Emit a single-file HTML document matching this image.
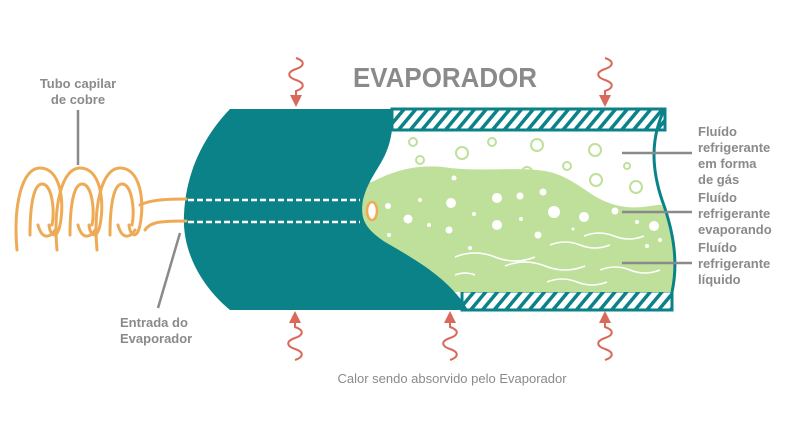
<!DOCTYPE html>
<html><head><style>body{margin:0;background:#fff}svg{display:block}</style></head><body>
<svg width="804" height="435" viewBox="0 0 804 435" xmlns="http://www.w3.org/2000/svg" font-family="Liberation Sans, sans-serif">
<defs>
<pattern id="h" width="9" height="9" patternUnits="userSpaceOnUse" patternTransform="rotate(40)">
<rect width="9" height="9" fill="#fff"/><rect width="3.5" height="9" fill="#0a8288"/></pattern>
<marker id="a" markerWidth="6" markerHeight="6" refX="3" refY="3" orient="auto"><path d="M0,0 L6,3 L0,6z" fill="#d9695a"/></marker>
</defs>
<rect x="392" y="109" width="273" height="21" fill="url(#h)" stroke="#0a8288" stroke-width="3"/>
<rect x="462" y="291" width="210" height="19" fill="url(#h)" stroke="#0a8288" stroke-width="3"/>
<path d="M350,182 L372,182 C395,170 420,163 450,168 C490,172 520,166 550,172 C580,180 590,200 620,206 C640,210 655,204 662,205 C675,235 678,265 672,292 L440,292 L350,250Z" fill="#bfe09b"/>
<path d="M664,110 C650,140 652,170 662,200 C675,235 678,265 672,292" fill="none" stroke="#0a8288" stroke-width="3"/>
<path d="M230,109 L393,109 C393,125 392,140 385,155 C378,170 368,180 363,200 C360,218 364,228 385,242 C420,262 450,280 468,310 L230,310 C200,285 182,250 184,215 C186,170 205,135 230,109Z" fill="#0a8288"/>
<g fill="none" stroke="#bfe09b" stroke-width="2">
<circle cx="413" cy="142" r="4"/><circle cx="420" cy="160" r="4"/><circle cx="462" cy="153" r="6"/><circle cx="492" cy="142" r="4"/><circle cx="537" cy="145" r="6"/><circle cx="595" cy="150" r="6"/><circle cx="567" cy="166" r="4"/><circle cx="627" cy="166" r="3"/><circle cx="596" cy="180" r="6"/><circle cx="636" cy="187" r="6"/><circle cx="527" cy="172" r="5"/><circle cx="581" cy="196" r="5"/></g>
<g fill="#fff">
<circle cx="388" cy="206" r="3"/><circle cx="408" cy="219" r="4.5"/><circle cx="420" cy="200" r="2"/><circle cx="451" cy="203" r="5"/><circle cx="454" cy="178" r="2.5"/><circle cx="429" cy="225" r="2"/><circle cx="389" cy="235" r="2"/><circle cx="449" cy="230" r="3.5"/><circle cx="497" cy="198" r="5"/><circle cx="520" cy="196" r="3.5"/><circle cx="543" cy="192" r="3.5"/><circle cx="474" cy="214" r="2"/><circle cx="497" cy="225" r="5"/><circle cx="521" cy="219" r="2"/><circle cx="554" cy="212" r="6"/><circle cx="538" cy="235" r="3.5"/><circle cx="584" cy="217" r="5"/><circle cx="615" cy="211" r="3.5"/><circle cx="470" cy="248" r="2"/><circle cx="637" cy="222" r="2"/><circle cx="654" cy="226" r="5"/><circle cx="647" cy="246" r="2"/><circle cx="660" cy="240" r="2"/><circle cx="573" cy="229" r="1.5"/></g>
<g fill="none" stroke="#fff" stroke-width="1.5">
<path d="M584,236 q15,-6 30,0 t30,0"/><path d="M550,245 q15,-6 30,0 t30,0"/><path d="M455,257 q20,-8 40,0 t40,0"/><path d="M505,266 q20,-8 40,0 t40,0"/><path d="M600,270 q15,-6 30,0 t30,0"/><path d="M547,282 q15,-6 30,0 t30,0"/><path d="M455,275 q10,-4 20,0"/></g>
<g fill="none" stroke="#eeaa55" stroke-width="3" stroke-linecap="round">
<path d="M140,205 C150,200 165,199 186,199"/><path d="M145,230 C150,222 160,221 186,221"/>
<path id="o" d="M17,250 C13,205 22,168 40,168 C60,168 65,200 60,225 C57,240 50,236 49,225"/>
<path d="M30,235 C30,200 35,184 42,184 C52,184 55,210 52,225"/>
<use href="#o" x="40"/><use href="#o" x="80"/>
<path d="M70,235 C70,200 75,184 82,184 C92,184 95,210 92,225"/>
<path d="M110,235 C110,200 115,184 122,184 C132,184 135,210 132,225"/>
<path d="M38,225 C42,240 50,238 55,230 M78,225 C82,240 90,238 95,230 M118,225 C122,240 130,238 135,230"/>
</g>
<line x1="188" y1="200" x2="360" y2="200" stroke="#fff" stroke-width="2.5" stroke-dasharray="6,3"/>
<line x1="188" y1="222" x2="360" y2="222" stroke="#fff" stroke-width="2.5" stroke-dasharray="6,3"/>
<ellipse cx="372" cy="211" rx="5" ry="9" fill="#fff" stroke="#eeaa55" stroke-width="2.5"/>
<g fill="none" stroke="#d9695a" stroke-width="2" marker-end="url(#a)">
<path d="M296,58 c9,3 9,8 0,11 c-9,3 -9,8 0,11 c9,3 9,8 0,11 l0,10"/>
<path d="M605,58 c9,3 9,8 0,11 c-9,3 -9,8 0,11 c9,3 9,8 0,11 l0,10"/>
<path d="M295,360 c9,-3 9,-8 0,-11 c-9,-3 -9,-8 0,-11 c9,-3 9,-8 0,-11 l0,-10"/>
<path d="M450,360 c9,-3 9,-8 0,-11 c-9,-3 -9,-8 0,-11 c9,-3 9,-8 0,-11 l0,-10"/>
<path d="M605,360 c9,-3 9,-8 0,-11 c-9,-3 -9,-8 0,-11 c9,-3 9,-8 0,-11 l0,-10"/>
</g>
<g stroke="#8a8a8a" stroke-width="2.5">
<line x1="78" y1="110" x2="78" y2="165"/><line x1="180" y1="233" x2="158" y2="308"/>
<line x1="622" y1="153" x2="692" y2="153"/><line x1="622" y1="212" x2="692" y2="212"/><line x1="622" y1="263" x2="692" y2="263"/></g>
<text x="353" y="87" font-size="28" font-weight="bold" fill="#8a8a8a" textLength="184" lengthAdjust="spacingAndGlyphs">EVAPORADOR</text>
<g font-size="13" fill="#8a8a8a" font-weight="bold">
<text x="78" y="88" text-anchor="middle">Tubo capilar</text><text x="78" y="104" text-anchor="middle">de cobre</text>
<text x="120" y="327">Entrada do</text><text x="120" y="343">Evaporador</text>
<text x="698" y="136">Fluído</text><text x="698" y="152">refrigerante</text><text x="698" y="168">em forma</text><text x="698" y="184">de gás</text>
<text x="698" y="202">Fluído</text><text x="698" y="218">refrigerante</text><text x="698" y="234">evaporando</text>
<text x="698" y="252">Fluído</text><text x="698" y="268">refrigerante</text><text x="698" y="284">líquido</text>
<text x="452" y="383" text-anchor="middle" font-weight="normal">Calor sendo absorvido pelo Evaporador</text>
</g>
</svg>
</body></html>
